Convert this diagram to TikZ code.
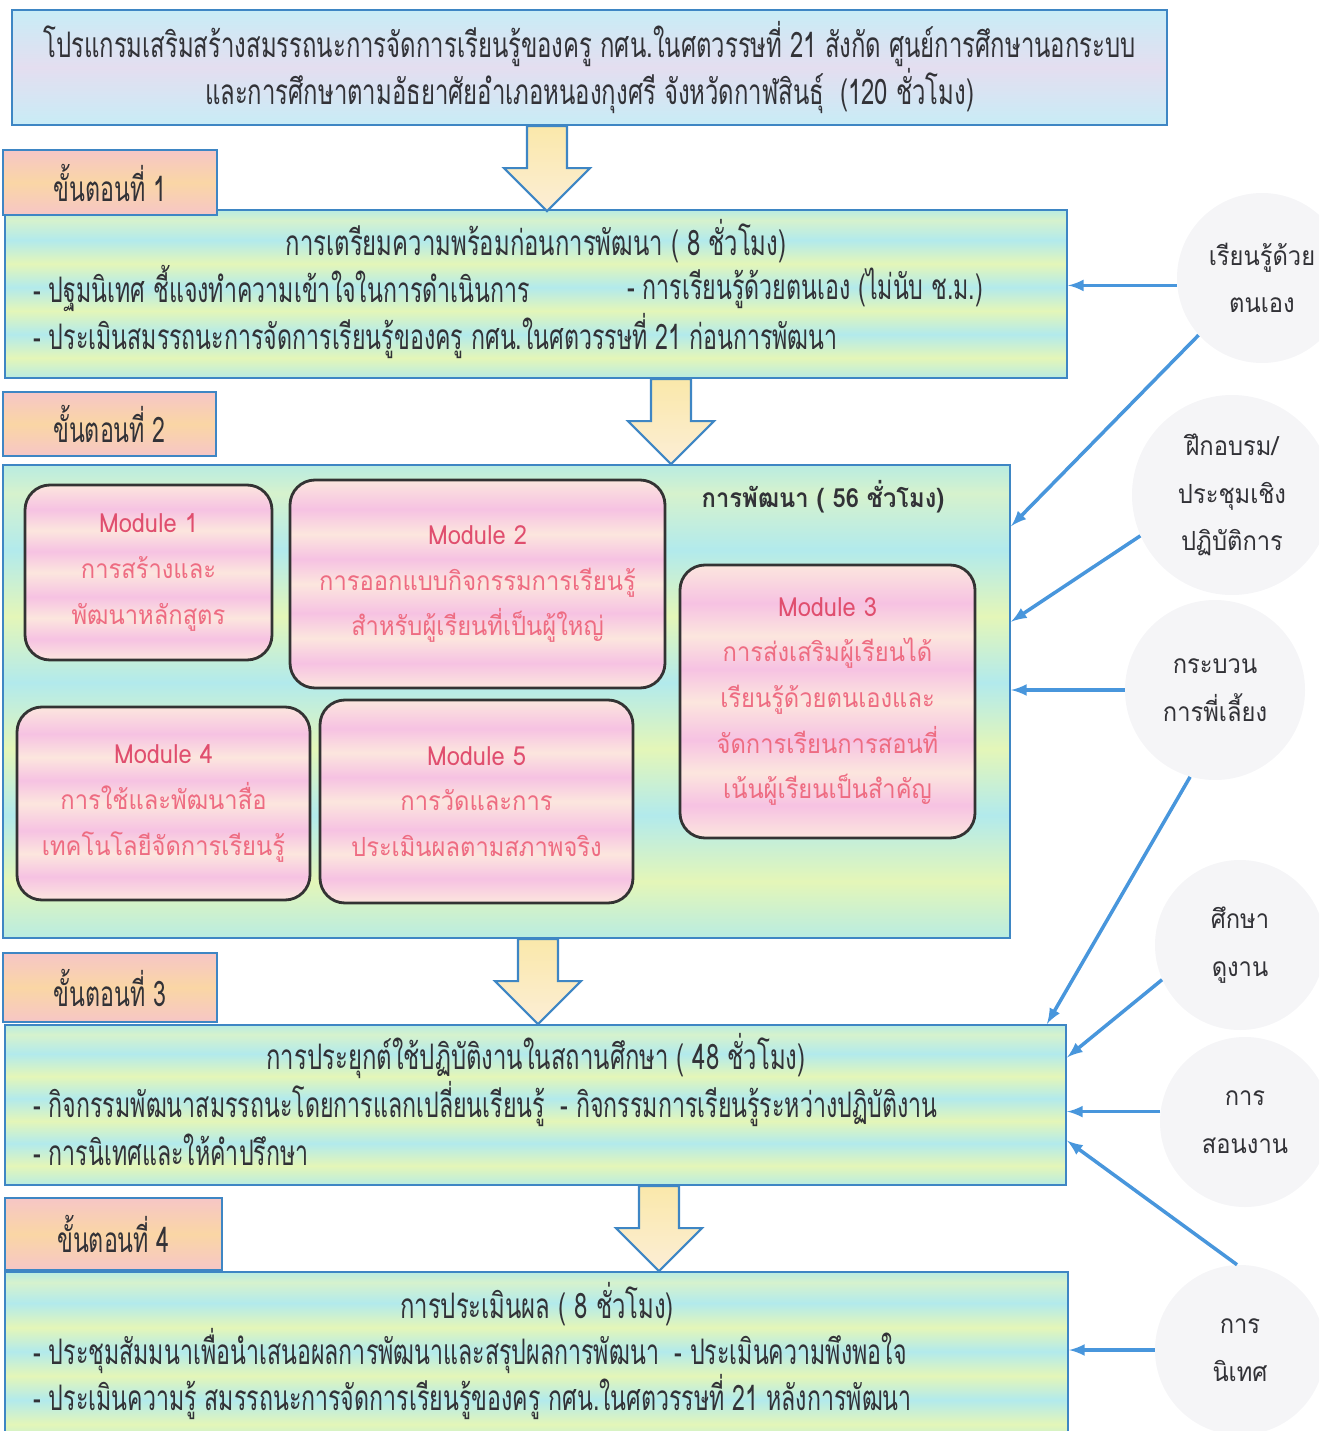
\documentclass[tikz,border=0pt]{standalone}
\usepackage{fontspec}
\setmainfont[Script=Thai]{Loma}
\newfontfamily\thaicond[Script=Thai,FakeStretch=0.66]{Loma}
\newfontfamily\thaihead[Script=Thai,FakeStretch=0.68]{Loma}
\newfontfamily\thairound[Script=Thai,FakeStretch=0.9]{Loma}
\usetikzlibrary{positioning}
\usetikzlibrary{arrows,calc}

\definecolor{blueline}{RGB}{62,134,196}
\definecolor{linkblue}{RGB}{72,150,220}
\definecolor{inkgray}{RGB}{50,50,55}
\definecolor{modred}{RGB}{224,78,110}
\definecolor{modpink}{RGB}{238,108,130}
\definecolor{bubblegray}{RGB}{245,245,247}
% band colours
\definecolor{sgA}{RGB}{185,236,225}
\definecolor{sgB}{RGB}{228,246,184}
\definecolor{sgC}{RGB}{178,234,236}
\definecolor{sgD}{RGB}{214,242,205}
\definecolor{tlA}{RGB}{200,236,246}
\definecolor{tlB}{RGB}{228,222,240}
\definecolor{stA}{RGB}{246,198,198}
\definecolor{stB}{RGB}{250,214,165}
\definecolor{mdA}{RGB}{246,194,226}
\definecolor{mdB}{RGB}{252,230,222}
\definecolor{arA}{RGB}{250,232,170}
\definecolor{arB}{RGB}{252,238,214}

\pgfdeclareverticalshading{stagebands}{100bp}{color(0bp)=(sgA); color(25bp)=(sgA);
  color(31bp)=(sgB); color(38bp)=(sgC); color(45bp)=(sgB); color(52bp)=(sgC);
  color(59bp)=(sgB); color(66bp)=(sgC); color(72bp)=(sgD); color(75bp)=(sgA); color(100bp)=(sgA)}
\pgfdeclareverticalshading{titleshade}{100bp}{color(0bp)=(tlA); color(25bp)=(tlA);
  color(50bp)=(tlB); color(75bp)=(tlA); color(100bp)=(tlA)}
\pgfdeclareverticalshading{stepshade}{100bp}{color(0bp)=(stA); color(25bp)=(stA);
  color(50bp)=(stB); color(75bp)=(stA); color(100bp)=(stA)}
\pgfdeclareverticalshading{modbands}{100bp}{color(0bp)=(mdB); color(25bp)=(mdB);
  color(31bp)=(mdA); color(37bp)=(mdB); color(43bp)=(mdA); color(50bp)=(mdB);
  color(56bp)=(mdA); color(62bp)=(mdB); color(68bp)=(mdA); color(75bp)=(mdB); color(100bp)=(mdB)}

\begin{document}
\begin{tikzpicture}[x=0.2mm,y=-0.2mm,
    stage/.style={draw=blueline,line width=1.3pt,shading=stagebands,inner sep=0},
    titlebox/.style={stage,shading=titleshade},
    steplabel/.style={stage,shading=stepshade,text=inkgray,
      font=\thaicond\fontsize{20}{24}\selectfont},
    headtext/.style={inner sep=0,text=inkgray,font=\thaihead\fontsize{20}{24}\selectfont},
    bodytext/.style={inner sep=0,text=inkgray,anchor=west,font=\thaicond\fontsize{20}{24}\selectfont},
    module/.style={draw=black!80,line width=1.6pt,rounded corners=5mm,shading=modbands,
      align=center,text=modpink,font=\thairound\fontsize{15}{26}\selectfont},
    bubble/.style={circle,fill=bubblegray,align=center,text=inkgray,
      font=\thairound\fontsize{15}{27}\selectfont},
    flowarrow/.style={draw=blueline,line width=1.2pt,top color=arA,bottom color=arB},
    link/.style={draw=linkblue,line width=2pt,-latex},
]
    \clip (0,0) rectangle (1319,1431);

    % side bubbles
    \node[bubble,minimum size=34mm] (c1) at (1262,278) {เรียนรู้ด้วย\\ตนเอง};
    \node[bubble,minimum size=40mm] (c2) at (1232,495) {ฝึกอบรม/\\ประชุมเชิง\\ปฏิบัติการ};
    \node[bubble,minimum size=36mm] (c3) at (1215,690) {กระบวน\\การพี่เลี้ยง};
    \node[bubble,minimum size=34mm] (c4) at (1240,945) {ศึกษา\\ดูงาน};
    \node[bubble,minimum size=34mm] (c5) at (1245,1122) {การ\\สอนงาน};
    \node[bubble,minimum size=34mm] (c6) at (1240,1350) {การ\\นิเทศ};

    % main boxes
    \node[titlebox,minimum width=231mm,minimum height=23mm] (title) at (589.5,67.5) {};
    \node[headtext,align=center,font=\thaihead\fontsize{20}{25.6}\selectfont] (titletext) at (title.center)
        {โปรแกรมเสริมสร้างสมรรถนะการจัดการเรียนรู้ของครู กศน.ในศตวรรษที่ 21 สังกัด ศูนย์การศึกษานอกระบบ\\
         และการศึกษาตามอัธยาศัยอำเภอหนองกุงศรี จังหวัดกาฬสินธุ์~ (120 ชั่วโมง)};

    \node[stage,minimum width=212.4mm,minimum height=33.6mm] (prep) at (536,294) {};
    \node[stage,minimum width=201.4mm,minimum height=94.6mm] (dev) at (506.5,701.5) {};
    \node[stage,minimum width=212.2mm,minimum height=32mm] (apply) at (535.5,1105) {};
    \node[stage,minimum width=212.6mm,minimum height=34.6mm] (eval) at (536.5,1358.5) {};

    \node[steplabel,minimum width=42.8mm,minimum height=13mm] (s1) at (110,182.5) {ขั้นตอนที่ 1};
    \node[steplabel,minimum width=42.6mm,minimum height=12.8mm] (s2) at (109.5,424) {ขั้นตอนที่ 2};
    \node[steplabel,minimum width=42.8mm,minimum height=13.8mm] (s3) at (110,987.5) {ขั้นตอนที่ 3};
    \node[steplabel,minimum width=43.4mm,minimum height=14.4mm] (s4) at (113.5,1234) {ขั้นตอนที่ 4};

    % stage 1
    \node[headtext] (preph) at (536,241) {การเตรียมความพร้อมก่อนการพัฒนา ( 8 ชั่วโมง)};
    \node[bodytext] (prep1) at (33,288) {- ปฐมนิเทศ ชี้แจงทำความเข้าใจในการดำเนินการ};
    \node[bodytext] (prep2) at (627,288) {- การเรียนรู้ด้วยตนเอง (ไม่นับ ช.ม.)};
    \node[bodytext] (prep3) at (33,336) {- ประเมินสมรรถนะการจัดการเรียนรู้ของครู กศน.ในศตวรรษที่ 21 ก่อนการพัฒนา};

    % stage 2
    \node[headtext,font=\thairound\bfseries\fontsize{15}{18}\selectfont] (devh) at (823,497) {การพัฒนา ( 56 ชั่วโมง)};
    \node[module,minimum width=49.4mm,minimum height=35mm] (m1) at (148.5,572.5)
        {\textcolor{modred}{Module 1}\\การสร้างและ\\พัฒนาหลักสูตร};
    \node[module,minimum width=75mm,minimum height=41.6mm] (m2) at (477.5,584)
        {\textcolor{modred}{Module 2}\\การออกแบบกิจกรรมการเรียนรู้\\สำหรับผู้เรียนที่เป็นผู้ใหญ่};
    \node[module,minimum width=59mm,minimum height=54.6mm] (m3) at (827.5,701.5)
        {\textcolor{modred}{Module 3}\\การส่งเสริมผู้เรียนได้\\เรียนรู้ด้วยตนเองและ\\จัดการเรียนการสอนที่\\เน้นผู้เรียนเป็นสำคัญ};
    \node[module,minimum width=58.6mm,minimum height=38.6mm] (m4) at (163.5,803.5)
        {\textcolor{modred}{Module 4}\\การใช้และพัฒนาสื่อ\\เทคโนโลยีจัดการเรียนรู้};
    \node[module,minimum width=62.6mm,minimum height=40.6mm] (m5) at (476.5,801.5)
        {\textcolor{modred}{Module 5}\\การวัดและการ\\ประเมินผลตามสภาพจริง};

    % stage 3
    \node[headtext] (applyh) at (536,1056) {การประยุกต์ใช้ปฏิบัติงานในสถานศึกษา ( 48 ชั่วโมง)};
    \node[bodytext] (apply1) at (33,1104) {- กิจกรรมพัฒนาสมรรถนะโดยการแลกเปลี่ยนเรียนรู้~ - กิจกรรมการเรียนรู้ระหว่างปฏิบัติงาน};
    \node[bodytext] (apply2) at (33,1150) {- การนิเทศและให้คำปรึกษา};

    % stage 4
    \node[headtext] (evalh) at (537,1304) {การประเมินผล ( 8 ชั่วโมง)};
    \node[bodytext] (eval1) at (33,1351) {- ประชุมสัมมนาเพื่อนำเสนอผลการพัฒนาและสรุปผลการพัฒนา~ - ประเมินความพึงพอใจ};
    \node[bodytext] (eval2) at (33,1397) {- ประเมินความรู้ สมรรถนะการจัดการเรียนรู้ของครู กศน.ในศตวรรษที่ 21 หลังการพัฒนา};

    % block arrows between stages
    \foreach \from/\ax in {title/547,prep/671,dev/538,apply/659}
        \draw[flowarrow] (\from.south -| \ax,0) ++(-20,0) -- ++(0,42) -- ++(-23,0)
            -- ++(43,43) -- ++(43,-43) -- ++(-23,0) -- ++(0,-42) -- cycle;

    % links from the bubbles
    \coordinate (d1) at ($(dev.north east)!0.131!(dev.south east)$);
    \coordinate (d2) at ($(dev.north east)!0.332!(dev.south east)$);
    \coordinate (p1) at ($(apply.north west)!0.981!(apply.north east)$);
    \coordinate (p2) at ($(apply.north east)!0.206!(apply.south east)$);
    \coordinate (p3) at ($(apply.north east)!0.72!(apply.south east)$);
    \draw[link] (c1.185) -- (c1.185 -| prep.east);
    \draw[link] (c1.222) -- (d1);
    \draw[link] (c2.204) -- (d2);
    \draw[link] (c3.west) -- (c3.west -| dev.east);
    \draw[link] (c3.254) -- (p1);
    \draw[link] (c4.204) -- (p2);
    \draw[link] (c5.173) -- (c5.173 -| apply.east);
    \draw[link] (c6.92) -- (p3);
    \draw[link] (c6.west) -- (c6.west -| eval.east);
\end{tikzpicture}
\end{document}
